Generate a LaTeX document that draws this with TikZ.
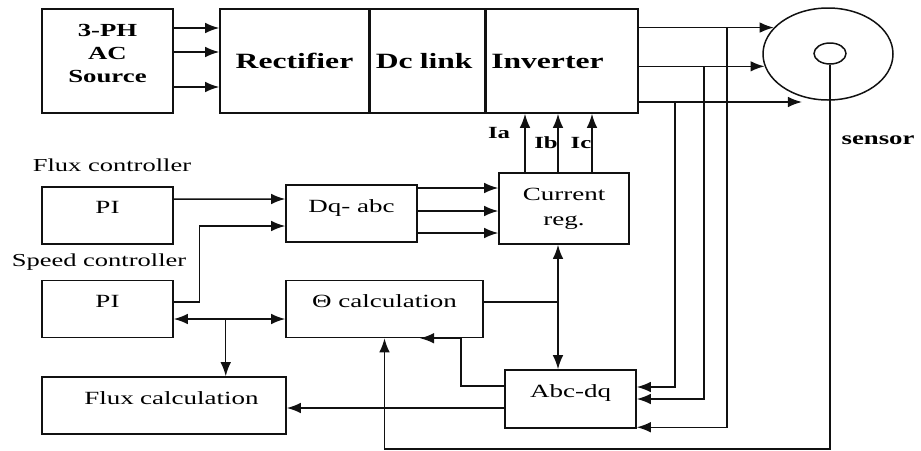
\documentclass[tikz,border=0pt]{standalone}
\usepackage{fontspec}
\setmainfont{Liberation Serif}[FakeStretch=1.45]
\usepackage{tikz}
\usetikzlibrary{arrows.meta,calc,positioning,shapes.geometric}
\definecolor{Ink}{HTML}{111111}
\tikzset{
  srcBox/.style={rectangle,draw=Ink,line width=.85pt,minimum width=2.62cm,minimum height=2.08cm,
    font=\bfseries\fontsize{10.5}{13}\selectfont,align=center},
  convBox/.style={rectangle,draw=Ink,line width=.85pt,minimum height=2.08cm,inner xsep=3pt,
    font=\bfseries\fontsize{12.4}{14}\selectfont,align=left},
  ctrlBox/.style={rectangle,draw=Ink,line width=.85pt,minimum width=2.62cm,minimum height=1.14cm,
    font=\fontsize{10.6}{14.2}\selectfont,align=center},
  liftText/.style={text depth=9pt},
  motor/.style={ellipse,draw=Ink,line width=.85pt,inner sep=0pt},
  tag/.style={font=\fontsize{10.4}{12}\selectfont,inner sep=1pt},
  boldTag/.style={font=\bfseries\fontsize{10.5}{12}\selectfont,inner sep=1pt},
  sig/.style={-{Latex[length=8pt,width=6pt]},draw=Ink,line width=.85pt},
  sigBoth/.style={{Latex[length=8pt,width=6pt]}-{Latex[length=8pt,width=6pt]},draw=Ink,line width=.85pt},
  wire/.style={draw=Ink,line width=.85pt}
}
\begin{document}
\begin{tikzpicture}[x=1cm,y=1cm]
  \useasboundingbox (0,0) rectangle (18.42,-9);
  % power stage
  \node[srcBox,text depth=9pt] (src) at (2.15,-1.22) {3-PH\\AC\\Source};
  \node[convBox,minimum width=2.98cm,align=center] (rect) at (5.89,-1.22) {Rectifier};
  \node[convBox,minimum width=2.28cm,text width=2.07cm,right=0pt of rect] (dcl) {Dc link};
  \node[convBox,minimum width=3.04cm,text width=2.83cm,right=0pt of dcl] (inv) {Inverter};
  \foreach \dy in {0.66,0.18,-0.52}
    \draw[sig] (src.east) ++(0,\dy) coordinate (s) -- (s -| rect.west);
  \node[motor,minimum width=2.6cm,minimum height=1.84cm] (mot) at (16.56,-1.08) {};
  \node[motor,minimum width=0.64cm,minimum height=0.42cm] (rot) at (16.6,-1.07) {};
  \coordinate (m3) at (16.04,-2.04);
  \draw[sig] (inv.east |- mot.154) coordinate (o1) -- (mot.154);
  \draw[sig] (inv.east |- mot.191) coordinate (o2) -- (mot.191);
  \draw[sig] (inv.east |- m3) coordinate (o3) -- (m3);
  \node[boldTag] (sen) at (17.56,-2.8) {sensor};

  % controllers
  \node[tag] (fct) at (2.24,-3.3) {Flux controller};
  \node[ctrlBox,liftText] (flx) at (2.15,-4.31) {PI};
  \node[tag] (sct) at (1.98,-5.24) {Speed controller};
  \node[ctrlBox,liftText] (spd) at (2.15,-6.18) {PI};
  \node[ctrlBox,liftText] (dq) at (7.03,-4.27) {Dq- abc};
  \node[ctrlBox,minimum width=2.6cm,minimum height=1.42cm] (cur) at (11.28,-4.17) {Current\\reg.};
  \node[ctrlBox,liftText,minimum width=3.94cm] (theta) at (7.69,-6.18) {Θ calculation};
  \node[ctrlBox,liftText,minimum width=4.88cm,text width=4.4cm] (flux) at (3.28,-8.11) {\hspace*{0.3cm}Flux calculation};
  \node[ctrlBox,liftText,minimum height=1.16cm] (abc) at (11.41,-7.98) {Abc-dq};

  \draw[sig] ($(flx.east)+(0,0.33)$) -- ($(dq.west)+(0,0.29)$);
  \draw[sig] ($(spd.east)+(0,0.14)$) -- ++(0.52,0) |- ($(dq.west)+(0,-0.25)$);
  \foreach \dy in {0.51,0.05,-0.39}
    \draw[sig] (dq.east) ++(0,\dy) coordinate (q) -- (q -| cur.west);
  % phase currents up to the inverter
  \foreach \dx in {-0.78,-0.12,0.56}
    \draw[sig] (cur.north) ++(\dx,0) coordinate (p) -- (p |- inv.south);
  \node[boldTag,font=\bfseries\fontsize{9.7}{11}\selectfont] (ia) at (9.98,-2.66) {Ia};
  \node[boldTag,font=\bfseries\fontsize{9.7}{11}\selectfont] (ib) at (10.92,-2.86) {Ib};
  \node[boldTag,font=\bfseries\fontsize{9.7}{11}\selectfont] (ic) at (11.62,-2.86) {Ic};

  % angle, flux and feedback paths
  \draw[sigBoth] ($(spd.east)+(0,-0.2)$) -- ($(theta.west)+(0,-0.2)$);
  \draw[sig] (spd.east) ++(1.04,-0.2) coordinate (br) -- (br |- flux.north);
  \coordinate (jn) at (11.16,-6.04);
  \draw[wire] (theta.east |- jn) -- (jn);
  \draw[sig] (jn) -- (jn |- cur.south);
  \draw[sig] (jn) -- (jn |- abc.north);
  \draw[sig] ($(abc.west)+(0,0.26)$) -| ($(theta.south east)+(-0.46,0)$) -- ($(theta.south)+(0.71,0)$);
  \draw[sig] (abc.west) ++(0,-0.18) coordinate (fa) -- (fa -| flux.east);
  \draw[sig] (o1) ++(1.76,0) |- ($(abc.south east)+(0,0.03)$);
  \draw[sig] (o2) ++(1.3,0) |- (abc.east);
  \draw[sig] (o3) ++(0.72,0) |- ($(abc.east)+(0,0.24)$);
  \draw[sig] (rot.south) -- ++(0,-7.68) -| (theta.south);
\end{tikzpicture}
\end{document}
